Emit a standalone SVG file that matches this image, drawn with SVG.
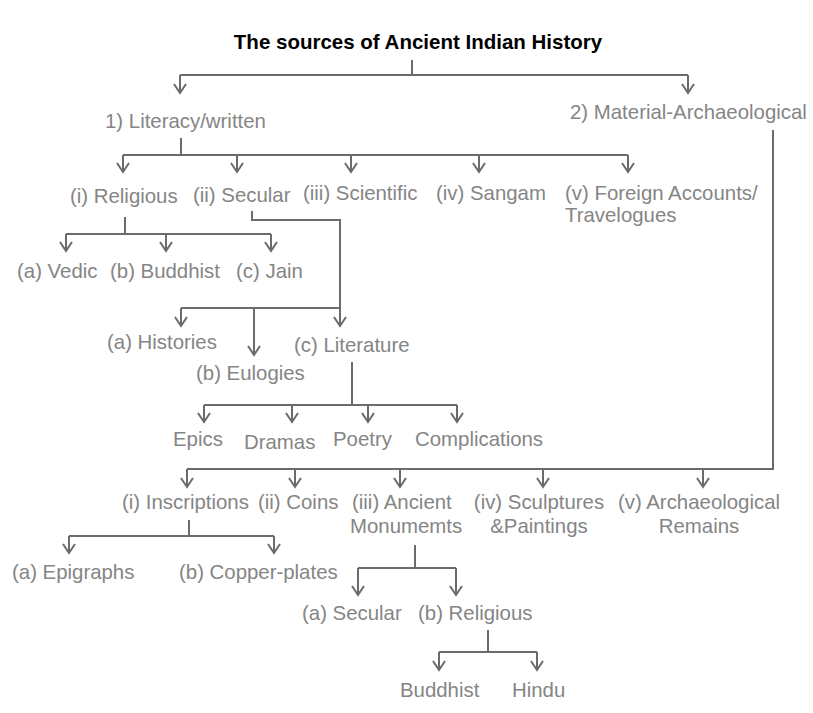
<svg xmlns="http://www.w3.org/2000/svg" width="813" height="713" viewBox="0 0 813 713">
<style>
text{font-family:"Liberation Sans",Arial,sans-serif;font-size:20.4px;fill:#858585}
.title{font-weight:bold;font-size:20.5px;fill:#000}
.c{text-anchor:middle}
.ln{fill:none;stroke:#6b6b6b;stroke-width:2}
.ar{marker-end:url(#arr)}
</style>
<defs>
<marker id="arr" markerUnits="userSpaceOnUse" markerWidth="20" markerHeight="20" viewBox="-10 -10 20 20" refX="0" refY="0" orient="auto" overflow="visible">
<path d="M-9,-6 L0,0 L-9,6" fill="none" stroke="#6b6b6b" stroke-width="2"/>
</marker>
</defs>
<rect width="813" height="713" fill="#fff"/>
<g id="connectors" class="ln">
<path d="M412,60 V75"/>
<path d="M180,75 H688"/>
<path class="ar" d="M180,75 V93"/>
<path class="ar" d="M688,75 V93"/>
<path d="M181,138 V155"/>
<path d="M123,155 H628"/>
<path class="ar" d="M123,155 V172"/>
<path class="ar" d="M237,155 V172"/>
<path class="ar" d="M351,155 V172"/>
<path class="ar" d="M479,155 V172"/>
<path class="ar" d="M628,155 V172"/>
<path d="M125,217 V234"/>
<path d="M66,234 H271"/>
<path class="ar" d="M66,234 V251"/>
<path class="ar" d="M166,234 V251"/>
<path class="ar" d="M271,234 V251"/>
<path class="ar" d="M252,211 V220 H340 V326"/>
<path d="M181,308 H340"/>
<path class="ar" d="M181,308 V326"/>
<path class="ar" d="M254,308 V355"/>
<path d="M352,362 V405"/>
<path d="M204,405 H457"/>
<path class="ar" d="M204,405 V422"/>
<path class="ar" d="M292,405 V422"/>
<path class="ar" d="M368,405 V422"/>
<path class="ar" d="M457,405 V422"/>
<path d="M773,130 V469 H187"/>
<path class="ar" d="M187,469 V487"/>
<path class="ar" d="M295,469 V487"/>
<path class="ar" d="M400,469 V487"/>
<path class="ar" d="M543,469 V487"/>
<path class="ar" d="M703,469 V487"/>
<path d="M189,520 V536"/>
<path d="M69,536 H274"/>
<path class="ar" d="M69,536 V553"/>
<path class="ar" d="M274,536 V553"/>
<path d="M415,545 V568"/>
<path d="M358,568 H456"/>
<path class="ar" d="M358,568 V595"/>
<path class="ar" d="M456,568 V595"/>
<path d="M488,630 V652"/>
<path d="M439,652 H537"/>
<path class="ar" d="M439,652 V670"/>
<path class="ar" d="M537,652 V670"/>
</g>
<g id="title"><text class="title c" x="418" y="49">The sources of Ancient Indian History</text></g>
<g id="literacy"><text x="105" y="128">1) Literacy/written</text></g>
<g id="material"><text x="570" y="119">2) Material-Archaeological</text></g>
<g id="religious"><text x="70" y="203">(i) Religious</text></g>
<g id="secular"><text x="193" y="202">(ii) Secular</text></g>
<g id="scientific"><text x="303" y="200">(iii) Scientific</text></g>
<g id="sangam"><text x="436" y="200">(iv) Sangam</text></g>
<g id="foreign"><text x="565" y="200">(v) Foreign Accounts/</text><text x="565" y="222">Travelogues</text></g>
<g id="vedic"><text x="17" y="278">(a) Vedic</text></g>
<g id="buddhist1"><text x="110" y="278">(b) Buddhist</text></g>
<g id="jain"><text x="236" y="278">(c) Jain</text></g>
<g id="histories"><text x="107" y="349">(a) Histories</text></g>
<g id="literature"><text x="294" y="352">(c) Literature</text></g>
<g id="eulogies"><text x="196" y="380">(b) Eulogies</text></g>
<g id="epics"><text x="173" y="446">Epics</text></g>
<g id="dramas"><text x="244" y="449">Dramas</text></g>
<g id="poetry"><text x="333" y="446">Poetry</text></g>
<g id="complications"><text x="415" y="446">Complications</text></g>
<g id="inscriptions"><text x="122" y="509">(i) Inscriptions</text></g>
<g id="coins"><text x="258" y="509">(ii) Coins</text></g>
<g id="monuments"><text x="352" y="509">(iii) Ancient</text><text x="350" y="533">Monumemts</text></g>
<g id="sculptures"><text class="c" x="539" y="509">(iv) Sculptures</text><text class="c" x="539" y="533">&amp;Paintings</text></g>
<g id="remains"><text class="c" x="699" y="509">(v) Archaeological</text><text class="c" x="699" y="533">Remains</text></g>
<g id="epigraphs"><text x="12" y="579">(a) Epigraphs</text></g>
<g id="copperplates"><text x="179" y="579">(b) Copper-plates</text></g>
<g id="secular2"><text x="302" y="620">(a) Secular</text></g>
<g id="religious2"><text x="418" y="620">(b) Religious</text></g>
<g id="buddhist2"><text x="400" y="697">Buddhist</text></g>
<g id="hindu"><text x="512" y="697">Hindu</text></g>
</svg>
